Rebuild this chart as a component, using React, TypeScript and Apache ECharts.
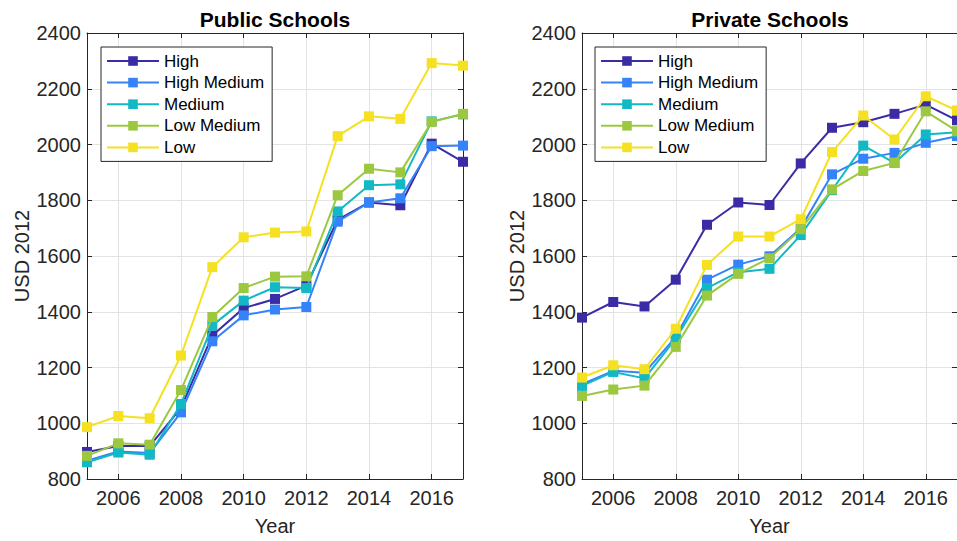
import React, { useEffect, useRef } from "react";
import * as echarts from "echarts";

const years = ["2005", "2006", "2007", "2008", "2009", "2010", "2011", "2012", "2013", "2014", "2015", "2016", "2017"];
const seriesNames = ["High", "High Medium", "Medium", "Low Medium", "Low"];
const colors = ["#3b2ca6", "#3583f8", "#12b8c4", "#9bc83f", "#f5e022"];

const publicHigh = [897, 918, 918, 1055, 1315, 1413, 1446, 1494, 1730, 1792, 1782, 2003, 1938];
const publicHighMedium = [866, 899, 893, 1039, 1294, 1387, 1408, 1417, 1723, 1792, 1807, 1994, 1996];
const publicMedium = [860, 895, 887, 1069, 1351, 1440, 1488, 1485, 1760, 1854, 1857, 2083, 2108];
const publicLowMedium = [883, 928, 923, 1119, 1381, 1485, 1526, 1527, 1818, 1913, 1900, 2081, 2110];
const publicLow = [986, 1026, 1018, 1243, 1560, 1667, 1684, 1688, 2030, 2101, 2092, 2292, 2283];

const privateHigh = [1379, 1435, 1419, 1515, 1712, 1792, 1783, 1932, 2060, 2080, 2110, 2143, 2087];
const privateHighMedium = [1140, 1188, 1181, 1310, 1515, 1569, 1599, 1700, 1893, 1949, 1970, 2006, 2030];
const privateMedium = [1134, 1184, 1161, 1304, 1485, 1542, 1554, 1675, 1836, 1996, 1934, 2036, 2044];
const privateLowMedium = [1098, 1121, 1135, 1274, 1458, 1536, 1592, 1696, 1839, 1905, 1934, 2119, 2048];
const privateLow = [1164, 1208, 1194, 1339, 1568, 1670, 1670, 1732, 1973, 2104, 2018, 2173, 2122];

const yTicks = [800, 1000, 1200, 1400, 1600, 1800, 2000, 2200, 2400];

const publicData = [publicHigh, publicHighMedium, publicMedium, publicLowMedium, publicLow];
const privateData = [privateHigh, privateHighMedium, privateMedium, privateLowMedium, privateLow];

const FONT = "'Liberation Sans', Arial, Helvetica, sans-serif";
const AXIS_COLOR = "#262626";
const GRID_COLOR = "#e3e3e3";

export default function App() {
  const ref = useRef<HTMLDivElement>(null);

  useEffect(() => {
    document.body.style.margin = "0";
    if (!ref.current) return;
    const chart = echarts.init(ref.current, null, { renderer: "svg" });

    const evenIdx = (i: number) => i % 2 === 1;

    const grids = [
      { left: 87, top: 33, width: 376, height: 448 },
      { left: 582, top: 33, width: 376, height: 448 },
    ];

    const xAxes: any[] = [];
    const yAxes: any[] = [];
    [0, 1].forEach((g) => {
      xAxes.push({
        type: "category",
        gridIndex: g,
        data: years,
        boundaryGap: false,
        position: "bottom",
        name: "Year",
        nameLocation: "middle",
        nameGap: 37,
        nameTextStyle: { fontSize: 20, color: AXIS_COLOR, fontFamily: FONT },
        axisLine: { show: true, lineStyle: { color: AXIS_COLOR, width: 1 } },
        axisTick: { show: true, inside: true, length: 5, interval: evenIdx, lineStyle: { color: AXIS_COLOR } },
        axisLabel: { show: true, interval: evenIdx, margin: 9, fontSize: 20, color: AXIS_COLOR, fontFamily: FONT },
        splitLine: { show: true, interval: evenIdx, lineStyle: { color: GRID_COLOR, width: 1 } },
      });
      xAxes.push({
        type: "category",
        gridIndex: g,
        data: years,
        boundaryGap: false,
        position: "top",
        axisLine: { show: true, lineStyle: { color: AXIS_COLOR, width: 1 } },
        axisTick: { show: true, inside: true, length: 5, interval: evenIdx, lineStyle: { color: AXIS_COLOR } },
        axisLabel: { show: false },
        splitLine: { show: false },
      });
      yAxes.push({
        type: "value",
        gridIndex: g,
        min: yTicks[0],
        max: yTicks[yTicks.length - 1],
        interval: 200,
        position: "left",
        name: "USD 2012",
        nameLocation: "middle",
        nameGap: 55,
        nameRotate: 90,
        nameTextStyle: { fontSize: 20, color: AXIS_COLOR, fontFamily: FONT },
        axisLine: { show: true, lineStyle: { color: AXIS_COLOR, width: 1 } },
        axisTick: { show: true, inside: true, length: 5, lineStyle: { color: AXIS_COLOR } },
        axisLabel: {
          show: true,
          margin: 6,
          fontSize: 20,
          color: AXIS_COLOR,
          fontFamily: FONT,
          formatter: (v: number) => String(v),
        },
        splitLine: { show: true, lineStyle: { color: GRID_COLOR, width: 1 } },
      });
      yAxes.push({
        type: "value",
        gridIndex: g,
        min: yTicks[0],
        max: yTicks[yTicks.length - 1],
        interval: 200,
        position: "right",
        axisLine: { show: true, lineStyle: { color: AXIS_COLOR, width: 1 } },
        axisTick: { show: true, inside: true, length: 5, lineStyle: { color: AXIS_COLOR } },
        axisLabel: { show: false },
        splitLine: { show: false },
      });
    });

    const series: any[] = [];
    [publicData, privateData].forEach((set, g) => {
      set.forEach((vals, i) => {
        series.push({
          type: "line",
          name: seriesNames[i],
          xAxisIndex: g * 2,
          yAxisIndex: g * 2,
          data: vals,
          symbol: "rect",
          symbolSize: 10,
          showSymbol: true,
          color: colors[i],
          lineStyle: { width: 2, color: colors[i] },
          itemStyle: { color: colors[i] },
          z: 2 + i,
        });
      });
    });

    const legendBase = {
      orient: "vertical",
      top: 47,
      data: seriesNames,
      backgroundColor: "#ffffff",
      borderColor: AXIS_COLOR,
      borderWidth: 1,
      borderRadius: 0,
      padding: [5, 8, 5, 5],
      itemWidth: 52,
      itemHeight: 12,
      itemGap: 3.6,
      selectedMode: false,
      textStyle: { fontSize: 17, lineHeight: 18, color: "#000", fontFamily: FONT },
    };

    chart.setOption({
      animation: false,
      backgroundColor: "#ffffff",
      grid: grids,
      xAxis: xAxes,
      yAxis: yAxes,
      legend: [
        { ...legendBase, left: 101 },
        { ...legendBase, left: 595 },
      ],
      graphic: [
        {
          type: "text",
          x: 275,
          y: 19,
          style: { text: "Public Schools", font: `bold 21px ${FONT}`, fill: "#000", textAlign: "center", textVerticalAlign: "middle" },
        },
        {
          type: "text",
          x: 770,
          y: 19,
          style: { text: "Private Schools", font: `bold 21px ${FONT}`, fill: "#000", textAlign: "center", textVerticalAlign: "middle" },
        },
      ],
      series,
    });

    return () => chart.dispose();
  }, []);

  return <div ref={ref} style={{ position: "fixed", left: 0, top: 0, width: 957, height: 541 }} />;
}
